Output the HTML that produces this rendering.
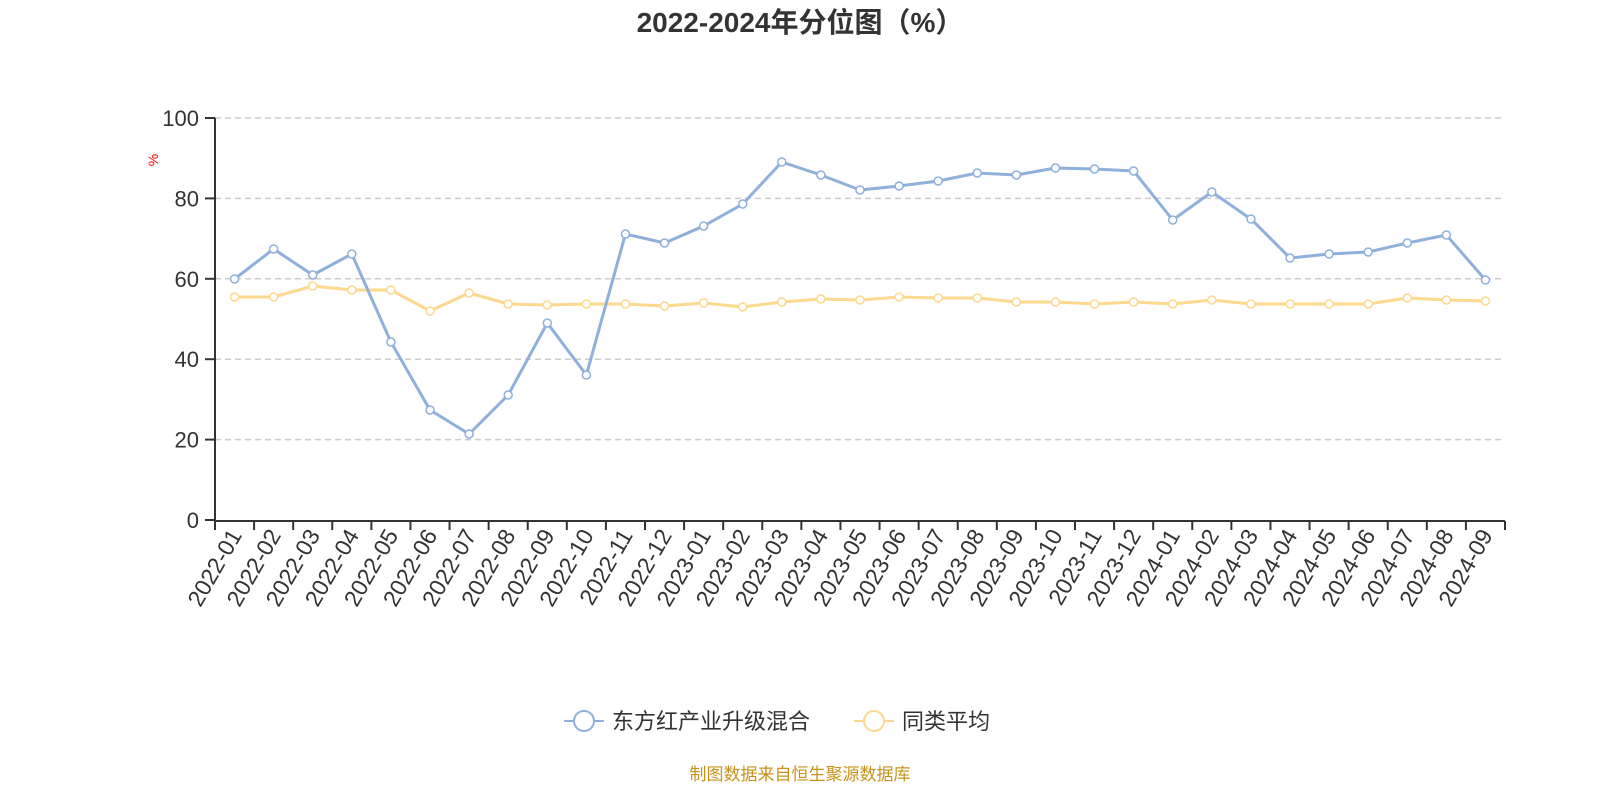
<!DOCTYPE html>
<html><head><meta charset="utf-8"><style>body{margin:0;background:#fff}svg{display:block;font-family:"Liberation Sans","Noto Sans CJK SC",sans-serif}</style></head>
<body>
<svg id="s" width="1600" height="800" xmlns="http://www.w3.org/2000/svg">
<text x="800" y="32" text-anchor="middle" font-size="28" font-weight="bold" fill="#333">2022-2024年分位图（%）</text>
<text x="158" y="160" font-size="14" fill="red" transform="rotate(-90 158 160)" text-anchor="middle">%</text>
<g id="g"></g>
<g transform="translate(580,721)">
<line x1="-16" y1="0" x2="24" y2="0" stroke="#8eb0db" stroke-width="2"/><circle cx="4" cy="0" r="10" fill="#fff" stroke="#8eb0db" stroke-width="2"/>
<text x="32" y="8" font-size="22" fill="#333">东方红产业升级混合</text>
<line x1="274" y1="0" x2="314" y2="0" stroke="#fdd88f" stroke-width="2"/><circle cx="294" cy="0" r="10" fill="#fff" stroke="#fdd88f" stroke-width="2"/>
<text x="322" y="8" font-size="22" fill="#333">同类平均</text>
</g>
<text x="800" y="780" text-anchor="middle" font-size="17" fill="#c8921a">制图数据来自恒生聚源数据库</text>
</svg>
<script>
const g=document.getElementById('g');let h='';
const X0=215,X1=1505,n=33,w=(X1-X0)/n;
[0,20,40,60,80,100].forEach(v=>{const y=520-v*4.02;
if(v>0)h+=`<line x1="${X0}" y1="${y}" x2="${X1}" y2="${y}" stroke="#ccc" stroke-dasharray="6,4" stroke-width="1.5"/>`;
h+=`<line x1="${X0-10}" y1="${y}" x2="${X0}" y2="${y}" stroke="#333" stroke-width="2"/><text x="${X0-16}" y="${y+8}" text-anchor="end" font-size="22" fill="#333">${v}</text>`;});
h+=`<line x1="${X0}" y1="118" x2="${X0}" y2="521" stroke="#333" stroke-width="2"/><line x1="${X0}" y1="521" x2="${X1}" y2="521" stroke="#333" stroke-width="2"/>`;
const labs=[];for(let y=2022;y<=2024;y++)for(let m=1;m<=12;m++){if(y==2024&&m>9)break;labs.push(y+'-'+String(m).padStart(2,'0'));}
for(let i=0;i<=n;i++){const x=X0+i*w;h+=`<line x1="${x}" y1="521" x2="${x}" y2="530" stroke="#333" stroke-width="2"/>`;}
labs.forEach((l,i)=>{const x=X0+(i+0.5)*w+8;h+=`<text x="${x}" y="535" text-anchor="end" font-size="23" fill="#333" transform="rotate(-60 ${x} 535)">${l}</text>`;});
const b=[279,249,275,254,342,410,434,395,323,375,234,243,226,204,162,175,190,186,181,173,175,168,169,171,220,192,219,258,254,252,243,235,280];
const yy=[297,297,286,290,290,311,293,304,305,304,304,306,303,307,302,299,300,297,298,298,302,302,304,302,304,300,304,304,304,304,298,300,301];
[[yy,'#fdd88f'],[b,'#8eb0db']].forEach(([d,c])=>{const p=d.map((y,i)=>(X0+(i+0.5)*w)+','+y).join(' ');
h+=`<polyline points="${p}" fill="none" stroke="${c}" stroke-width="3"/>`;
d.forEach((y,i)=>h+=`<circle cx="${X0+(i+0.5)*w}" cy="${y}" r="4" fill="#fff" stroke="${c}" stroke-width="1.5"/>`);});
g.innerHTML=h;
</script>
</body></html>
